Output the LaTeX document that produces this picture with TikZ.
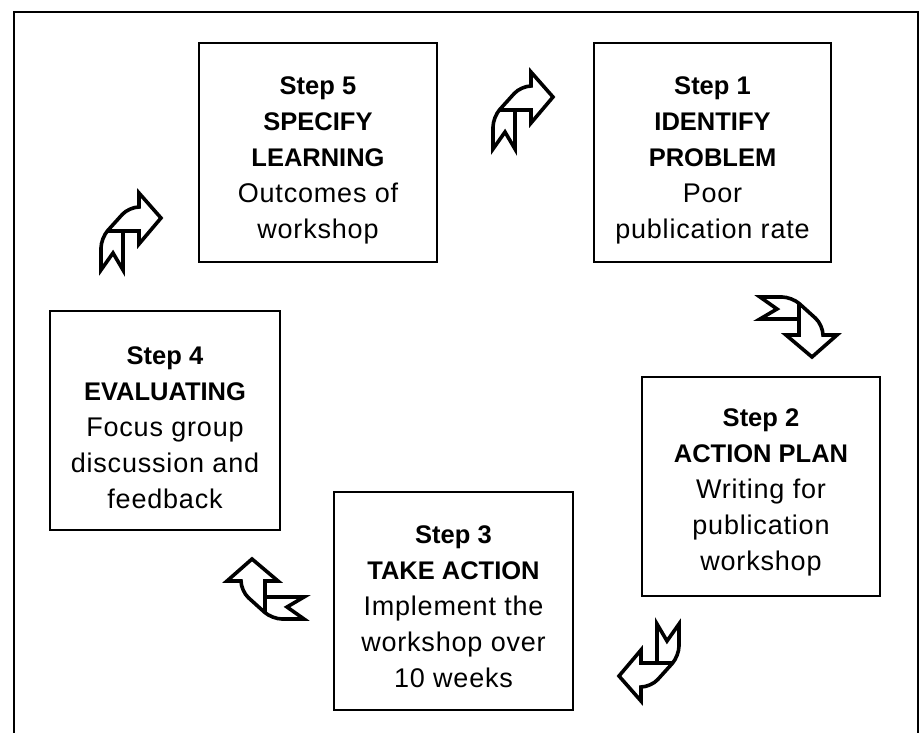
\documentclass[tikz,border=0pt]{standalone}
\usepackage{fontspec}
\setmainfont{Liberation Sans}
\newfontfamily\regfont[LetterSpace=3]{Liberation Sans}
\newfontfamily\plainfont{Liberation Sans}
\newcommand{\bl}[1]{{\plainfont\bfseries\fontsize{25.5}{36}\selectfont #1}}
\begin{document}
\begin{tikzpicture}[x=1pt,y=-1pt,
  stepbox/.style={draw=black,line width=2.6pt,inner sep=0pt},
  steptext/.style={align=center,inner sep=0pt,font=\regfont\fontsize{27}{36}\selectfont},
  arrowline/.style={draw=black,line width=3.6pt,line join=miter,miter limit=4},
  ribbon/.pic={
    \draw[arrowline] (-30,39) -- (-18,22) -- (-8,39) -- (-8,0) -- (8,0) -- (8,13)
      -- (30,-13) -- (8,-38) -- (8,-24) [rounded corners=10pt] -- (-2,-24) -- (-30,7)
      [sharp corners] -- (-30,39) -- cycle;
    \draw[arrowline] (-24,0) -- (-8,0);
  }]
\useasboundingbox (0,0) rectangle (924,733);
\clip (0,0) rectangle (924,733);
\draw[line width=2.6pt] (14,12) rectangle (918,760);

\node[stepbox,minimum width=238pt,minimum height=219pt] (b5) at (318,152.5) {};
\node[stepbox,minimum width=237pt,minimum height=219pt] (b1) at (712.5,152.5) {};
\node[stepbox,minimum width=238pt,minimum height=219pt] (b2) at (761,486.5) {};
\node[stepbox,minimum width=239pt,minimum height=218pt] (b3) at (453.5,601) {};
\node[stepbox,minimum width=230pt,minimum height=219pt] (b4) at (165,420.5) {};

\node[steptext] (t5) at ([yshift=-8pt]b5.center)
  {\bl{Step 5}\\\bl{SPECIFY}\\\bl{LEARNING}\\Outcomes of\\workshop};
\node[steptext] (t1) at ([yshift=-8pt]b1.center)
  {\bl{Step 1}\\\bl{IDENTIFY}\\\bl{PROBLEM}\\Poor\\publication rate};
\node[steptext] (t2) at ([yshift=-6pt]b2.center)
  {\bl{Step 2}\\\bl{ACTION PLAN}\\Writing for\\publication\\workshop};
\node[steptext] (t3) at ([yshift=-6pt]b3.center)
  {\bl{Step 3}\\\bl{TAKE ACTION}\\Implement the\\workshop over\\10 weeks};
\node[steptext] (t4) at ([yshift=-7pt]b4.center)
  {\bl{Step 4}\\\bl{EVALUATING}\\Focus group\\discussion and\\feedback};

\pic (a1) at (523,110) {ribbon};
\pic[rotate=-90] (a2) at (799,327) {ribbon};
\pic[rotate=180] (a3) at (649,663) {ribbon};
\pic[rotate=90] (a4) at (265,589) {ribbon};
\pic (a5) at (131,231) {ribbon};
\end{tikzpicture}
\end{document}
